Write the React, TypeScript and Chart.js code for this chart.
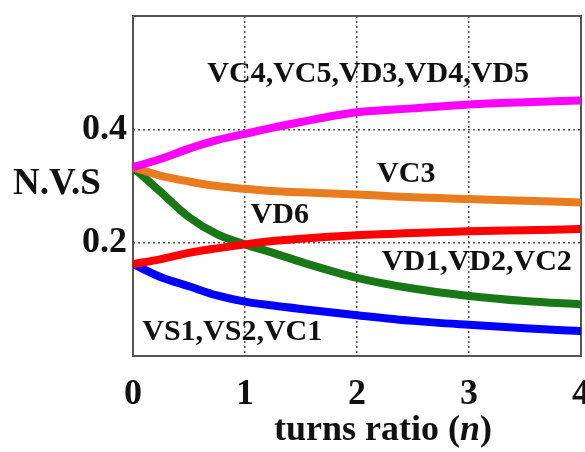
import React, { useEffect, useRef } from 'react';
import { Chart, registerables } from 'chart.js';

Chart.register(...registerables);

// turns ratio n
const turnsRatio = [0, 0.25, 0.5, 0.75, 1, 1.25, 1.5, 2, 2.5, 3, 3.5, 4];
// VC4,VC5,VD3,VD4,VD5 (magenta)
const vc4Group = [0.333, 0.348, 0.366, 0.381, 0.392, 0.403, 0.413, 0.43, 0.437, 0.444, 0.448, 0.451];
// VC3 (orange)
const vc3 = [0.333, 0.318, 0.308, 0.3, 0.295, 0.291, 0.289, 0.285, 0.28, 0.277, 0.274, 0.271];
// VD6 (red)
const vd6 = [0.162, 0.171, 0.182, 0.19, 0.197, 0.203, 0.207, 0.213, 0.217, 0.22, 0.222, 0.224];
// VD1,VD2,VC2 (green)
const vd1Group = [0.333, 0.289, 0.245, 0.215, 0.197, 0.182, 0.166, 0.138, 0.119, 0.106, 0.097, 0.091];
// VS1,VS2,VC1 (blue)
const vs1Group = [0.162, 0.139, 0.123, 0.107, 0.096, 0.089, 0.083, 0.072, 0.062, 0.055, 0.049, 0.044];

const seriesNames = ['VC4,VC5,VD3,VD4,VD5', 'VC3', 'VD6', 'VD1,VD2,VC2', 'VS1,VS2,VC1'];
const seriesValues = [vc4Group, vc3, vd6, vd1Group, vs1Group];
const seriesColors = ['#ff00ff', '#e87c1e', '#ff0000', '#187818', '#0000ff'];

const xTickLabels = ['0', '1', '2', '3', '4'];
const yTickValues = [0.2, 0.4];

// label anchors in data coordinates (centre of the text)
const labelAnchorN = [2.1, 2.44, 1.31, 3.07, 0.886];
const labelAnchorV = [0.498, 0.321, 0.248, 0.165, 0.042];

const FONT = '"Liberation Serif", "Times New Roman", serif';

const decor = {
  id: 'decor',
  beforeDatasetsDraw(chart: any) {
    const { ctx, chartArea: a } = chart;
    ctx.save();
    ctx.strokeStyle = '#555555';
    ctx.lineWidth = 2;
    ctx.strokeRect(a.left, a.top, a.right - a.left, a.bottom - a.top);
    ctx.restore();
  },
  afterDatasetsDraw(chart: any) {
    const { ctx } = chart;
    const xs = chart.scales.x;
    const ys = chart.scales.y;
    ctx.save();
    ctx.fillStyle = '#111111';
    ctx.textAlign = 'center';
    ctx.textBaseline = 'middle';
    ctx.font = `bold 30px ${FONT}`;
    seriesNames.forEach((name, i) => {
      ctx.fillText(name, xs.getPixelForValue(labelAnchorN[i]), ys.getPixelForValue(labelAnchorV[i]));
    });
    // y title (horizontal)
    ctx.font = `bold 37px ${FONT}`;
    ctx.textAlign = 'left';
    ctx.fillText('N.V.S', 13, 184);
    // x title with italic n
    const p1 = 'turns ratio (';
    const p2 = 'n';
    const p3 = ')';
    ctx.font = `bold 36px ${FONT}`;
    const w1 = ctx.measureText(p1).width;
    const w3 = ctx.measureText(p3).width;
    ctx.font = `italic bold 36px ${FONT}`;
    const w2 = ctx.measureText(p2).width;
    const total = w1 + w2 + w3;
    let x = 383 - total / 2;
    const y = 431;
    ctx.font = `bold 36px ${FONT}`;
    ctx.fillText(p1, x, y);
    x += w1;
    ctx.font = `italic bold 36px ${FONT}`;
    ctx.fillText(p2, x, y);
    x += w2;
    ctx.font = `bold 36px ${FONT}`;
    ctx.fillText(p3, x, y);
    ctx.restore();
  },
};

export default function App() {
  const ref = useRef<HTMLCanvasElement | null>(null);
  useEffect(() => {
    document.body.style.margin = '0';
    if (!ref.current) return;
    const chart = new Chart(ref.current, {
      type: 'line',
      data: {
        datasets: seriesValues.map((vals, i) => ({
          label: seriesNames[i],
          data: turnsRatio.map((n, j) => ({ x: n, y: vals[j] })),
          borderColor: seriesColors[i],
          backgroundColor: seriesColors[i],
          borderWidth: 8,
          pointRadius: 0,
          tension: 0.4,
          cubicInterpolationMode: 'monotone',
          fill: false,
        })),
      },
      options: {
        animation: false,
        responsive: false,
        layout: { padding: { top: 16, right: 4, left: 0, bottom: 0 } },
        plugins: { legend: { display: false }, tooltip: { enabled: false } },
        scales: {
          x: {
            type: 'linear',
            min: 0,
            max: 4,
            border: { display: false, dash: [2, 3] },
            grid: {
              color: '#555555',
              lineWidth: 1.5,
              drawTicks: false,
            },
            ticks: {
              stepSize: 1,
              padding: 17,
              color: '#111111',
              font: { family: FONT, size: 36, weight: 'bold' },
              maxRotation: 0,
              callback: (v: any) => xTickLabels[Math.round(Number(v))] ?? '',
            },
            afterFit: (s: any) => {
              s.height = 96;
              s.paddingLeft = 0;
              s.paddingRight = 0;
            },
          },
          y: {
            type: 'linear',
            min: 0,
            max: 0.6,
            border: { display: false, dash: [2, 3] },
            grid: {
              color: '#555555',
              lineWidth: 1.5,
              drawTicks: false,
            },
            ticks: {
              stepSize: 0.2,
              padding: 6,
              color: '#111111',
              font: { family: FONT, size: 36, weight: 'bold' },
              callback: (v: any) => {
                const num = Number(v);
                const hit = yTickValues.find((t) => Math.abs(t - num) < 1e-6);
                return hit !== undefined ? hit.toFixed(1) : '';
              },
            },
            afterFit: (s: any) => {
              s.width = 133;
              s.paddingTop = 0;
              s.paddingBottom = 0;
            },
          },
        },
      },
      plugins: [decor],
    });
    return () => chart.destroy();
  }, []);
  return <canvas ref={ref} width={585} height={452} style={{ display: 'block' }} />;
}
